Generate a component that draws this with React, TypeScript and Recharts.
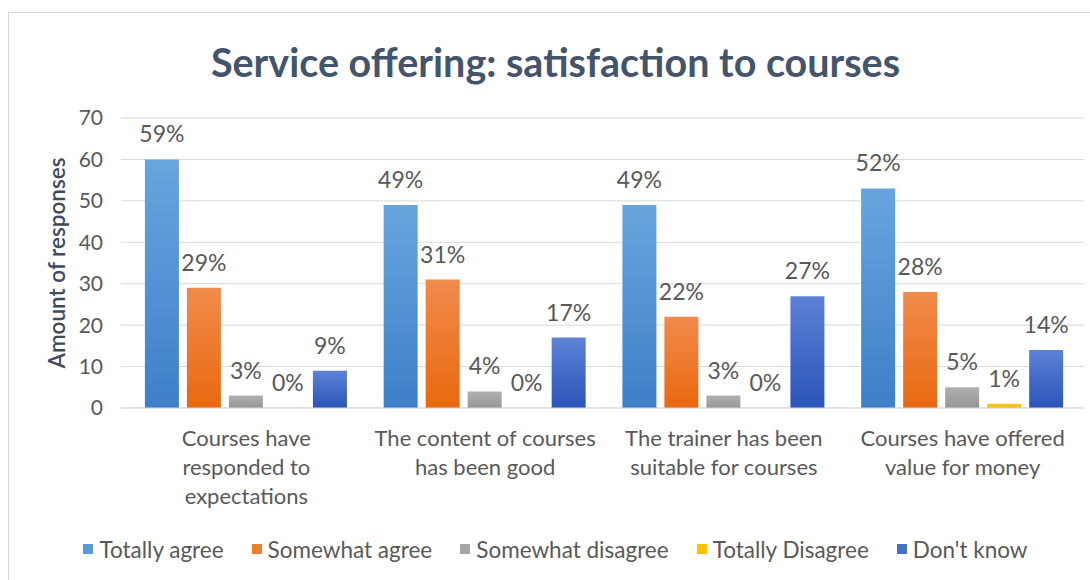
import {
  BarChart,
  Bar,
  XAxis,
  YAxis,
  CartesianGrid,
  Legend,
  LabelList,
  Label,
} from "recharts";

const categories = [
  "Courses have\nresponded to\nexpectations",
  "The content of courses\nhas been good",
  "The trainer has been\nsuitable for courses",
  "Courses have offered\nvalue for money",
];

// bar heights (amount of responses)
const totallyAgree = [60, 49, 49, 53];
const somewhatAgree = [29, 31, 22, 28];
const somewhatDisagree = [3, 4, 3, 5];
const totallyDisagree = [0, 0, 0, 1];
const dontKnow = [9, 17, 27, 14];

// percentage labels shown above the bars
const totallyAgreePct = ["59%", "49%", "49%", "52%"];
const somewhatAgreePct = ["29%", "31%", "22%", "28%"];
const somewhatDisagreePct = ["3%", "4%", "3%", "5%"];
const totallyDisagreePct = ["0%", "0%", "0%", "1%"];
const dontKnowPct = ["9%", "17%", "27%", "14%"];

const yTicks = [0, 10, 20, 30, 40, 50, 60, 70];

const series = [
  { key: "ta", name: "Totally agree", values: totallyAgree, pct: totallyAgreePct, top: "#68A5DE", bottom: "#3D80C8", swatch: "#5B9BD5" },
  { key: "sa", name: "Somewhat agree", values: somewhatAgree, pct: somewhatAgreePct, top: "#F18B4C", bottom: "#E8690F", swatch: "#ED7D31" },
  { key: "sd", name: "Somewhat disagree", values: somewhatDisagree, pct: somewhatDisagreePct, top: "#B0B0B0", bottom: "#969696", swatch: "#A5A5A5" },
  { key: "td", name: "Totally Disagree", values: totallyDisagree, pct: totallyDisagreePct, top: "#FFC61A", bottom: "#F5B800", swatch: "#FFC000" },
  { key: "dk", name: "Don't know", values: dontKnow, pct: dontKnowPct, top: "#5D82D6", bottom: "#2A55B9", swatch: "#4472C4" },
];

const data = categories.map((name, i) => {
  const row: Record<string, string | number> = { name };
  series.forEach((s) => {
    row[s.key] = s.values[i];
    row[s.key + "Pct"] = s.pct[i];
  });
  return row;
});

const FONT = "Lato, 'Open Sans', sans-serif";
const GREY = "#595959";

const CategoryTick = (props: any) => {
  const { x, y, payload } = props;
  const lines = String(payload.value).split("\n");
  return (
    <text x={x} y={y + 30} textAnchor="middle" fill={GREY} fontSize={22} fontFamily={FONT}>
      {lines.map((l, i) => (
        <tspan key={i} x={x} dy={i === 0 ? 0 : 29}>
          {l}
        </tspan>
      ))}
    </text>
  );
};

const LegendContent = () => (
  <div
    style={{
      display: "flex",
      justifyContent: "center",
      alignItems: "center",
      height: 26,
      fontFamily: FONT,
      fontSize: 22.5,
      color: GREY,
      paddingLeft: 12,
    }}
  >
    {series.map((s, i) => (
      <div key={s.key} style={{ display: "flex", alignItems: "center", marginLeft: i === 0 ? 0 : 28 }}>
        <span style={{ width: 10, height: 10, background: s.swatch, marginRight: 6, display: "inline-block" }} />
        <span>{s.name}</span>
      </div>
    ))}
  </div>
);

export default function App() {
  return (
    <div>
      <style>{`body{margin:0;overflow:hidden;}`}</style>
      <div
        style={{
          position: "relative",
          marginLeft: 8,
          marginTop: 12,
          width: 1081,
          height: 567,
          borderTop: "1px solid #D5D9E0",
          borderLeft: "1px solid #D5D9E0",
        }}
      >
        <div
          style={{
            position: "absolute",
            top: 25,
            left: 6,
            width: "100%",
            textAlign: "center",
            fontFamily: FONT,
            fontWeight: 700,
            fontSize: 39.5,
            color: "#44546A",
          }}
        >
          Service offering: satisfaction to courses
        </div>
        <BarChart
          width={1081}
          height={567}
          data={data}
          margin={{ top: 105, right: 6, left: 0, bottom: 46 }}
          barCategoryGap="7.5%"
          barGap={8}
        >
          <defs>
            {series.map((s) => (
              <linearGradient key={s.key} id={"grad-" + s.key} x1="0" y1="0" x2="0" y2="1">
                <stop offset="0%" stopColor={s.top} />
                <stop offset="100%" stopColor={s.bottom} />
              </linearGradient>
            ))}
          </defs>
          <CartesianGrid vertical={false} stroke="#D9D9D9" />
          <XAxis
            dataKey="name"
            interval={0}
            tick={<CategoryTick />}
            tickLine={false}
            axisLine={{ stroke: "#D9D9D9" }}
            height={100}
            padding={{ left: 6, right: 2 }}
          />
          <YAxis
            domain={[0, 70]}
            ticks={yTicks}
            width={112}
            tickLine={false}
            axisLine={false}
            tickMargin={12}
            tick={{ fill: GREY, fontSize: 21, fontFamily: FONT }}
          >
            <Label
              value="Amount of responses"
              angle={-90}
              position="insideLeft"
              offset={48}
              style={{ textAnchor: "middle", fill: "#3E4A5E", fontSize: 22.5, fontWeight: 600, fontFamily: FONT }}
            />
          </YAxis>
          <Legend verticalAlign="bottom" content={<LegendContent />} wrapperStyle={{ top: 523, left: 0, width: 1081 }} />
          {series.map((s) => (
            <Bar
              key={s.key}
              dataKey={s.key}
              name={s.name}
              fill={"url(#grad-" + s.key + ")"}
              minPointSize={0.01}
              isAnimationActive={false}
            >
              <LabelList
                dataKey={s.key + "Pct"}
                position="top"
                offset={17}
                fill={GREY}
                fontSize={23}
                fontFamily={FONT}
              />
            </Bar>
          ))}
        </BarChart>
      </div>
    </div>
  );
}
